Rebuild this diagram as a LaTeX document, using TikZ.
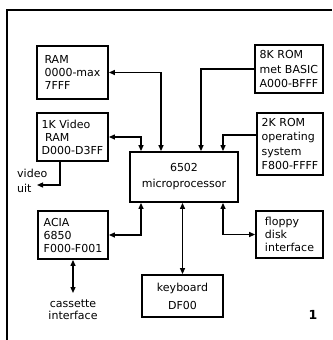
\documentclass[tikz,border=0pt]{standalone}
\usepackage{fontspec}
\setmainfont{DejaVu Sans}
\usetikzlibrary{arrows.meta}
\begin{document}
\begin{tikzpicture}[x=1pt,y=-1pt,
  >={Triangle[length=6pt,width=5pt]},
  blk/.style={draw,line width=1.8pt,inner sep=0pt,align=left,
    font=\fontsize{11}{13}\selectfont},
  conn/.style={line width=1.2pt},
  lbl/.style={inner sep=0pt,font=\fontsize{11}{13}\selectfont}]
\useasboundingbox (0,0) rectangle (332,340);
\draw[line width=1.2pt] (332,10) -- (7,10) -- (7,340);
\node[blk,minimum width=71pt,minimum height=53pt] (ram) at (72.5,72.5) {RAM\\0000-max\\7FFF};
\node[blk,minimum width=71pt,minimum height=48pt] (vram) at (72.5,137) {1K Video\\\ RAM\\D000-D3FF};
\node[blk,minimum width=68pt,minimum height=48pt,font=\fontsize{11}{14.5}\selectfont] (rom8) at (289,69) {8K ROM\\met BASIC\\A000-BFFF};
\node[blk,minimum width=66pt,minimum height=62pt,font=\fontsize{11}{14.5}\selectfont] (rom2) at (290,144) {2K ROM\\operating\\system\\F800-FFFF};
\node[blk,minimum width=108pt,minimum height=50pt,align=center,font=\fontsize{11}{16}\selectfont] (cpu) at (184,177) {6502\\microprocessor};
\node[blk,minimum width=70pt,minimum height=48pt] (acia) at (73,235) {ACIA\\6850\\F000-F001};
\node[blk,minimum width=81pt,minimum height=42pt,align=center,font=\fontsize{11}{18}\selectfont] (kbd) at (182.5,296) {keyboard\\DF00};
\node[blk,minimum width=67pt,minimum height=47pt] (fdc) at (289.5,234.5) {floppy\\disk\\interface};
\coordinate (vout) at (37,185);
\coordinate (cas) at (73,293);
\node[lbl,anchor=west,align=left,font=\fontsize{11}{15}\selectfont] (vlab) at (17,180.5) {video\\uit};
\node[lbl,anchor=north,align=center,font=\fontsize{11}{12}\selectfont] (clab) at (73,300) {cassette\\interface};
\node[lbl,font=\bfseries\fontsize{12.5}{14}\selectfont] (num) at (313,315) {1};
\draw[conn,<->] (ram.east) -| ([xshift=-23pt]cpu.north);
\draw[conn,<->] (vram.east) -| ([xshift=-43pt]cpu.north);
\draw[conn,->] (rom8.west) -| ([xshift=17pt]cpu.north);
\draw[conn,->] ([yshift=9pt]rom2.west) -| ([xshift=39pt]cpu.north);
\draw[conn,<->] ([xshift=-43pt]cpu.south) |- (acia.east);
\draw[conn,<->] (kbd.north |- cpu.south) -- (kbd.north);
\draw[conn,<->] ([xshift=39pt]cpu.south) |- (fdc.west);
\draw[conn,->] ([xshift=-12.5pt]vram.south) |- (vout);
\draw[conn,<->] (acia.south) -- (cas);
\end{tikzpicture}
\end{document}
